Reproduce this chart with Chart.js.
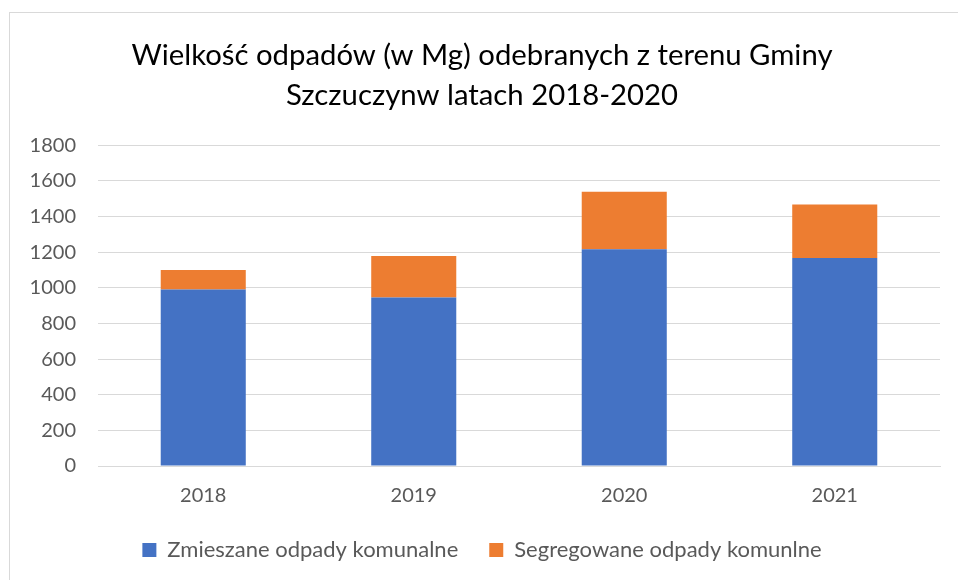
<!DOCTYPE html>
<html>
<head>
<meta charset="utf-8">
<script src="https://cdn.jsdelivr.net/npm/chart.js@4"></script>
<style>
    body { margin: 0; overflow: hidden; background: #fff; }
    #frame { position: absolute; left: 9px; top: 12px; width: 1200px; height: 800px; border: 1px solid #d9d9d9; }
    #wrap { position: absolute; left: 0; top: 0; width: 958px; height: 580px; }
</style>
</head>
<body>
<div id="frame"></div>
<div id="wrap"><canvas id="waste-chart"></canvas></div>
<script>
const years = ['2018', '2019', '2020', '2021'];
const mixedWaste = [991, 946, 1217, 1168];
const sortedWaste = [109, 232, 322, 300];
const titleLines = ['Wielkość odpadów (w Mg) odebranych z terenu Gminy', 'Szczuczynw latach 2018-2020'];

const tickColor = '#595959';
const gridColor = '#d9d9d9';

new Chart(
    document.getElementById('waste-chart'),
    {
        type: 'bar',
        data: {
            labels: years,
            datasets: [
                {
                    label: 'Zmieszane odpady komunalne',
                    data: mixedWaste,
                    backgroundColor: '#4472c4'
                },
                {
                    label: 'Segregowane odpady komunlne',
                    data: sortedWaste,
                    backgroundColor: '#ed7d31'
                }
            ]
        },
        options: {
            responsive: true,
            maintainAspectRatio: false,
            animation: false,
            layout: {
                padding: { left: 24, right: 18, top: 12, bottom: 9 }
            },
            datasets: {
                bar: {
                    categoryPercentage: 1,
                    barPercentage: 0.404
                }
            },
            plugins: {
                title: {
                    display: true,
                    text: titleLines,
                    color: '#000',
                    font: { family: 'Lato', size: 29.3, weight: 'normal', lineHeight: 1.37 },
                    padding: { top: 23, bottom: 30 }
                },
                legend: {
                    position: 'bottom',
                    labels: {
                        color: tickColor,
                        font: { family: 'Lato', size: 22 },
                        boxWidth: 14,
                        boxHeight: 14,
                        padding: 31
                    }
                },
                tooltip: { enabled: false }
            },
            scales: {
                x: {
                    stacked: true,
                    grid: { display: false, drawTicks: false },
                    border: { color: gridColor },
                    ticks: {
                        color: tickColor,
                        font: { family: 'Lato', size: 20 },
                        padding: 18
                    },
                    afterFit: (scale) => { scale.height = 42; }
                },
                y: {
                    stacked: true,
                    min: 0,
                    max: 1800,
                    grid: { color: gridColor, drawTicks: false },
                    border: { display: false },
                    ticks: {
                        stepSize: 200,
                        color: tickColor,
                        font: { family: 'Lato', size: 20 },
                        padding: 22,
                        callback: (value) => String(value)
                    },
                    afterFit: (scale) => { scale.width = 74; }
                }
            }
        }
    }
);
</script>
</body>
</html>
